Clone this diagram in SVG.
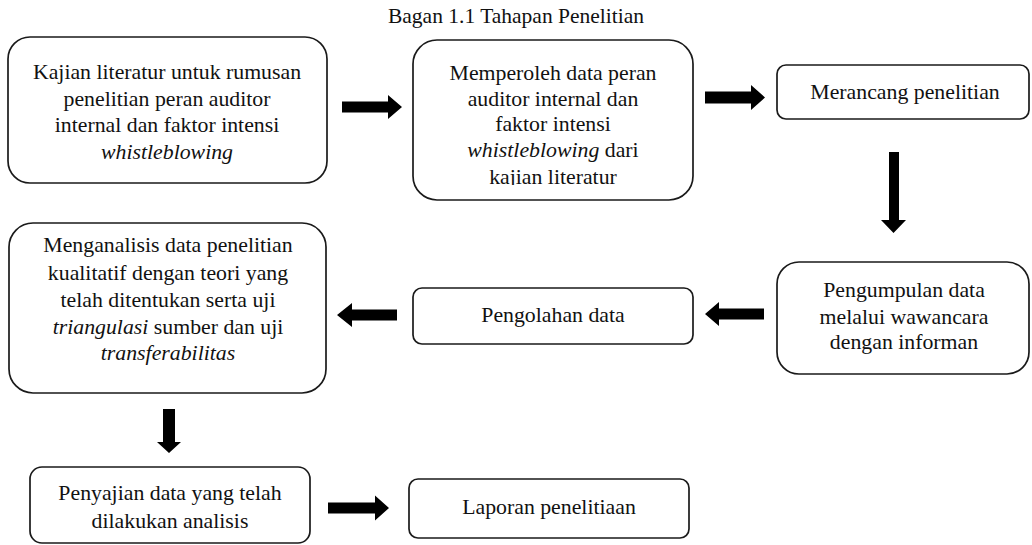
<svg xmlns="http://www.w3.org/2000/svg" width="1032" height="545" viewBox="0 0 1032 545">
<style>
.box{fill:#fff;stroke:#1a1a1a;stroke-width:1.7}
.t{font-family:"Liberation Serif","Times New Roman",serif;font-size:21.8px;fill:#111;text-anchor:middle}
.title{font-family:"Liberation Serif","Times New Roman",serif;font-size:21.5px;fill:#111;text-anchor:middle}
.arr{fill:#000}
</style>
<defs>
<clipPath id="clip2"><rect x="413" y="40" width="280" height="145"/></clipPath>
</defs>
<rect width="1032" height="545" fill="#fff"/>
<text class="title" x="516" y="23">Bagan 1.1 Tahapan Penelitian</text>

<g id="n1">
<rect class="box" x="8" y="37" width="319" height="146" rx="22"/>
<text class="t" x="167" y="79">Kajian literatur untuk rumusan</text>
<text class="t" x="167" y="106">penelitian peran auditor</text>
<text class="t" x="167" y="132">internal dan faktor intensi</text>
<text class="t" x="167" y="159" font-style="italic">whistleblowing</text>
</g>

<g id="n2">
<rect class="box" x="413" y="40" width="280" height="160" rx="24"/>
<g clip-path="url(#clip2)">
<text class="t" x="553" y="80">Memperoleh data peran</text>
<text class="t" x="553" y="106">auditor internal dan</text>
<text class="t" x="553" y="131">faktor intensi</text>
<text class="t" x="553" y="157"><tspan font-style="italic">whistleblowing</tspan> dari</text>
<text class="t" x="553" y="184">kajian literatur</text>
</g>
</g>

<g id="n3">
<rect class="box" x="777" y="65" width="252" height="54" rx="9"/>
<text class="t" x="905" y="99">Merancang penelitian</text>
</g>

<g id="n4">
<rect class="box" x="777" y="262" width="252" height="112" rx="22"/>
<text class="t" x="904" y="297">Pengumpulan data</text>
<text class="t" x="904" y="324">melalui wawancara</text>
<text class="t" x="904" y="349">dengan informan</text>
</g>

<g id="n5">
<rect class="box" x="413" y="288" width="280" height="56" rx="9"/>
<text class="t" x="553" y="322">Pengolahan data</text>
</g>

<g id="n6">
<rect class="box" x="9" y="223" width="317" height="170" rx="24"/>
<text class="t" x="168" y="252">Menganalisis data penelitian</text>
<text class="t" x="168" y="280">kualitatif dengan teori yang</text>
<text class="t" x="168" y="307">telah ditentukan serta uji</text>
<text class="t" x="168" y="334"><tspan font-style="italic">triangulasi</tspan> sumber dan uji</text>
<text class="t" x="168" y="360" font-style="italic">transferabilitas</text>
</g>

<g id="n7">
<rect class="box" x="30" y="467" width="280" height="76" rx="12"/>
<text class="t" x="170" y="500">Penyajian data yang telah</text>
<text class="t" x="170" y="528">dilakukan analisis</text>
</g>

<g id="n8">
<rect class="box" x="409" y="479" width="280" height="59" rx="9"/>
<text class="t" x="549" y="514">Laporan penelitiaan</text>
</g>

<g id="connectors">
<path class="arr" d="M342 101.5 H388 V95 L402 107 L388 119 V112.5 H342 Z"/>
<path class="arr" d="M705 91.5 H751 V85 L765 97.5 L751 110 V103.5 H705 Z"/>
<path class="arr" d="M889 152 V220 H881 L893.5 233 L906 220 H899 V152 Z"/>
<path class="arr" d="M764 308.5 H719 V302 L705 314 L719 326 V319.5 H764 Z"/>
<path class="arr" d="M397 309.5 H352 V303 L337 315 L352 327 V320.5 H397 Z"/>
<path class="arr" d="M163 409 V442 H157 L169 453 L181 442 H175 V409 Z"/>
<path class="arr" d="M328 502.5 H375 V495.5 L389 508 L375 520.5 V513.5 H328 Z"/>
</g>
</svg>
